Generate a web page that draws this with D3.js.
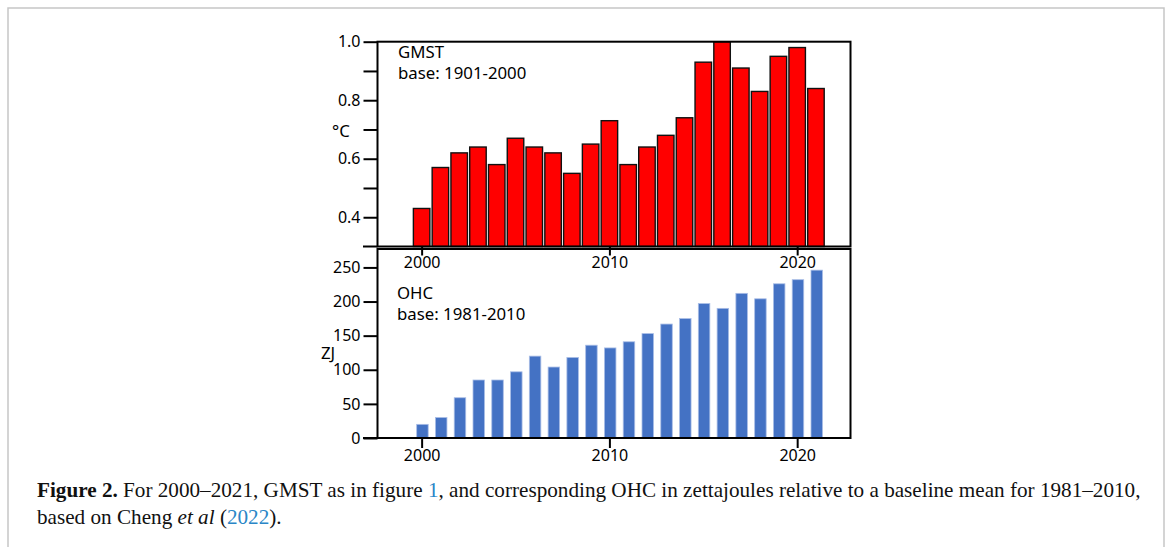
<!DOCTYPE html>
<html>
<head>
<meta charset="utf-8">
<script src="https://cdn.jsdelivr.net/npm/d3@7"></script>
<style>
  html, body { margin: 0; padding: 0; background: #fff; }
  svg { display: block; }
</style>
</head>
<body>
<svg id="chart" width="1171" height="547"></svg>
<script>
// ---- data ----
const years = d3.range(2000, 2022);
const gmstValues = [0.43, 0.57, 0.62, 0.64, 0.58, 0.67, 0.64, 0.62, 0.55, 0.65, 0.73,
                    0.58, 0.64, 0.68, 0.74, 0.93, 1.00, 0.91, 0.83, 0.95, 0.98, 0.84];
const ohcValues = [20, 30, 59, 85, 85, 97, 120, 104, 118, 136, 132,
                   141, 153, 167, 175, 197, 190, 212, 204, 226, 232, 246];
const xTickYears = [2000, 2010, 2020];
const gmstTicks = [0.4, 0.5, 0.6, 0.7, 0.8, 0.9, 1.0];
const gmstLabelled = [0.4, 0.6, 0.8, 1.0];
const ohcTicks = [0, 50, 100, 150, 200, 250];

const svg = d3.select("#chart");
const sans = "'Noto Sans', 'Open Sans', Arial, sans-serif";
const serif = "'Liberation Serif', 'Times New Roman', serif";
const FS = 16;     // tick labels
const LS = 16.8;   // panel labels

// outer frame
svg.append("rect").attr("x", 8).attr("y", 8).attr("width", 1156).attr("height", 560)
  .attr("fill", "none").attr("stroke", "#c6c6c6").attr("stroke-width", 1.5);

const left = 377.5, right = 850.5;
const x = d3.scaleLinear().domain([1997.65, 2022.84]).range([left, right]);

// ---- top panel (GMST) ----
const tTop = 41.7, tBot = 246.5;
const yT = d3.scaleLinear().domain([0.3, 1.0]).range([tBot, tTop]);
const redW = 16.5;
svg.append("g").selectAll("rect").data(years).join("rect")
  .attr("x", d => x(d) - redW / 2)
  .attr("y", (d, i) => yT(gmstValues[i]))
  .attr("width", redW)
  .attr("height", (d, i) => tBot - yT(gmstValues[i]))
  .attr("fill", "#ff0000").attr("stroke", "#111").attr("stroke-width", 1.4);

svg.append("rect").attr("x", left).attr("y", tTop).attr("width", right - left).attr("height", tBot - tTop)
  .attr("fill", "none").attr("stroke", "#000").attr("stroke-width", 2);
svg.append("line").attr("x1", 363).attr("x2", left).attr("y1", tBot).attr("y2", tBot)
  .attr("stroke", "#000").attr("stroke-width", 2);

const gyT = svg.append("g").attr("transform", `translate(${left},0)`)
  .call(d3.axisLeft(yT).tickValues(gmstTicks).tickSize(14).tickPadding(3)
    .tickFormat(d => gmstLabelled.some(v => Math.abs(v - d) < 1e-9) ? d3.format(".1f")(d) : ""));
gyT.select(".domain").remove();
gyT.selectAll(".tick line").attr("stroke-width", 2);
gyT.selectAll("text").attr("font-family", sans).attr("font-size", FS).attr("fill", "#000");

const gxT = svg.append("g").attr("transform", `translate(0,${tBot})`)
  .call(d3.axisBottom(x).tickValues(xTickYears).tickSize(9).tickPadding(1).tickFormat(d3.format("d")));
gxT.select(".domain").remove();
gxT.selectAll(".tick line").attr("stroke-width", 2);
gxT.selectAll("text").attr("font-family", sans).attr("font-size", FS).attr("fill", "#000");

svg.append("text").attr("x", 332).attr("y", 137).attr("font-family", sans).attr("font-size", LS).text("°C");
svg.append("text").attr("x", 398).attr("y", 58).attr("font-family", sans).attr("font-size", LS).text("GMST");
svg.append("text").attr("x", 398).attr("y", 79).attr("font-family", sans).attr("font-size", LS).text("base: 1901-2000");

// ---- bottom panel (OHC) ----
const bTop = 249, bBot = 438;
const yB = d3.scaleLinear().domain([0, 277]).range([bBot, bTop]);
const blueW = 11.5;

svg.append("rect").attr("x", left).attr("y", bTop).attr("width", right - left).attr("height", bBot - bTop)
  .attr("fill", "none").attr("stroke", "#000").attr("stroke-width", 2);

gxT.raise();

svg.append("g").selectAll("rect").data(years).join("rect")
  .attr("x", d => x(d) - blueW / 2 + 0.8)
  .attr("y", (d, i) => yB(ohcValues[i]))
  .attr("width", blueW)
  .attr("height", (d, i) => bBot - yB(ohcValues[i]))
  .attr("fill", "#4472c4").attr("stroke", "#a9bde6").attr("stroke-width", 0.8);

svg.append("line").attr("x1", 363).attr("x2", right).attr("y1", bBot).attr("y2", bBot)
  .attr("stroke", "#000").attr("stroke-width", 2);

const gyB = svg.append("g").attr("transform", `translate(${left},0)`)
  .call(d3.axisLeft(yB).tickValues(ohcTicks).tickSize(14).tickPadding(3).tickFormat(d3.format("d")));
gyB.select(".domain").remove();
gyB.selectAll(".tick line").attr("stroke-width", 2);
gyB.selectAll("text").attr("font-family", sans).attr("font-size", FS).attr("fill", "#000");

const gxB = svg.append("g").attr("transform", `translate(0,${bBot})`)
  .call(d3.axisBottom(x).tickValues(xTickYears).tickSize(10).tickPadding(2).tickFormat(d3.format("d")));
gxB.select(".domain").remove();
gxB.selectAll(".tick line").attr("stroke-width", 2);
gxB.selectAll("text").attr("font-family", sans).attr("font-size", FS).attr("fill", "#000");

svg.append("text").attr("x", 321).attr("y", 359).attr("font-family", sans).attr("font-size", LS).text("ZJ");
svg.append("text").attr("x", 397).attr("y", 299).attr("font-family", sans).attr("font-size", LS).text("OHC");
svg.append("text").attr("x", 397).attr("y", 320).attr("font-family", sans).attr("font-size", LS).text("base: 1981-2010");

// ---- caption ----
const blue = "#2a86c7";
function caption(y, parts) {
  const t = svg.append("text").attr("x", 37).attr("y", y)
    .attr("font-family", serif).attr("font-size", 18).attr("fill", "#111");
  parts.forEach(p => {
    const s = t.append("tspan").text(p.t);
    if (p.b) s.attr("font-weight", "bold");
    if (p.i) s.attr("font-style", "italic");
    if (p.c) s.attr("fill", p.c);
  });
  return t;
}
const l1 = caption(497, [
  {t: "Figure 2.", b: true},
  {t: " For 2000–2021, GMST as in figure "},
  {t: "1", c: blue},
  {t: ", and corresponding OHC in zettajoules relative to a baseline mean for 1981–2010,"}
]);
const l2 = caption(524, [
  {t: "based on Cheng "},
  {t: "et al", i: true},
  {t: " ("},
  {t: "2022", c: blue},
  {t: ")."}
]);
const w = l1.node().getComputedTextLength();
const fs = 18 * 1104 / w;
l1.attr("font-size", fs);
l2.attr("font-size", fs);
</script>
</body>
</html>
